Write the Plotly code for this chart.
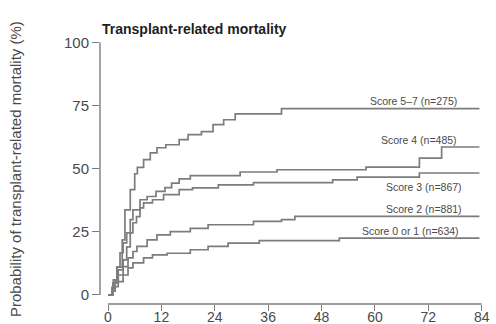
import plotly.graph_objects as go

# Cumulative incidence of transplant-related mortality (%) by risk score, months after transplant
t57 = [0, 1.1, 2.0, 3.2, 3.8, 5.0, 6.0, 6.6, 8.0, 9.5, 11, 13, 16, 18, 21, 23.6, 26, 28.6, 39, 83.5]
v57 = [0, 4.8, 11, 21.8, 33.7, 41.7, 48, 50.5, 53.6, 56.3, 58.3, 59.5, 61.5, 63.5, 64.7, 67.5, 69.4, 71.7, 73.8, 73.8]

t4 = [0, 0.9, 1.2, 2.0, 2.7, 3.4, 4.2, 5.0, 5.6, 7.2, 8.8, 10.8, 12.8, 14.3, 16, 18.5, 29.7, 38, 58, 70, 75, 83.5]
v4 = [0, 3, 6, 11, 16.7, 20.6, 24.6, 29.8, 33.7, 37.7, 39, 41, 42.5, 44.3, 46, 47.3, 48.7, 49.6, 50.6, 54.2, 58.6, 58.6]

t3 = [0, 1.0, 1.6, 2.3, 3.4, 4.2, 5.0, 5.6, 6.4, 7.2, 8.0, 10, 12.5, 16, 19, 24.8, 32.7, 50.5, 56, 70, 83.5]
v3 = [0, 3, 6, 9.9, 13.9, 19, 24.6, 28.6, 31, 34.5, 36.5, 37.7, 39.7, 41.7, 42.4, 43.6, 44.5, 45.6, 46.7, 48.3, 48.3]

t2 = [0, 1.0, 1.6, 2.3, 3.4, 4.5, 5.6, 6.5, 8.8, 11, 14, 18.5, 22.5, 32.7, 39, 42, 83.5]
v2 = [0, 2.5, 4.8, 7.9, 11.2, 14.7, 17.2, 19.2, 21.8, 23.8, 25.1, 26.4, 27.8, 29.1, 29.8, 31.1, 31.1]

t01 = [0, 1.0, 1.6, 2.3, 3.4, 4.5, 5.6, 8, 10, 13.3, 18.5, 22.5, 27, 34, 52, 83.5]
v01 = [0, 1.5, 3.3, 5.3, 7.9, 10.7, 12.7, 14.7, 15.9, 16.5, 17.9, 19.2, 20.5, 21.5, 22.5, 22.5]

group_labels = ["Score 5\u20137 (n=275)", "Score 4 (n=485)", "Score 3 (n=867)",
                "Score 2 (n=881)", "Score 0 or 1 (n=634)"]
x_ticks = [0, 12, 24, 36, 48, 60, 72, 84]
y_ticks = [0, 25, 50, 75, 100]

series = [(t57, v57), (t4, v4), (t3, v3), (t2, v2), (t01, v01)]
# label anchor points (right edge, vertical centre) in data units
label_pos = [(78.8, 76.7), (78.8, 61.5), (80.0, 42.6), (80.0, 34.1), (79.3, 25.4)]

LINE = "#7c7c7c"
TEXT = "#4a4a4a"
FONT = "Liberation Sans, Arial, sans-serif"

fig = go.Figure()
for (t, v), name in zip(series, group_labels):
    fig.add_trace(go.Scatter(x=t, y=v, mode="lines", line_shape="hv",
                             line=dict(color=LINE, width=1.7), name=name,
                             showlegend=False, hoverinfo="skip"))

for (lx, ly), name in zip(label_pos, group_labels):
    fig.add_annotation(x=lx, y=ly, xref="x", yref="y", text=name, showarrow=False,
                       xanchor="right", yanchor="middle",
                       font=dict(family=FONT, size=10.5, color=TEXT))

# Detached axis lines spanning only the data range
fig.add_shape(type="line", xref="paper", yref="y", x0=0, x1=0, y0=0, y1=100,
              line=dict(color=LINE, width=1.4))
fig.add_shape(type="line", xref="x", yref="paper", x0=0, x1=84, y0=0, y1=0,
              line=dict(color=LINE, width=1.4))

fig.add_annotation(x=0, y=1.042, xref="paper", yref="paper",
                   text="<b>Transplant-related mortality</b>", showarrow=False,
                   xanchor="left", yanchor="middle",
                   font=dict(family=FONT, size=14, color="#1e1e1e"))
fig.add_annotation(x=-0.22, y=0.51, xref="paper", yref="paper",
                   text="Probability of transplant-related mortality (%)",
                   showarrow=False, textangle=-90, xanchor="center", yanchor="middle",
                   font=dict(family=FONT, size=15, color=TEXT))

fig.update_xaxes(range=[-1.8, 84.3], tickvals=x_ticks, ticks="outside", ticklen=6,
                 tickwidth=1.4, tickcolor=LINE, showline=False, showgrid=False,
                 zeroline=False, automargin=False, ticklabelstandoff=-6,
                 tickfont=dict(family=FONT, size=14, color=TEXT))
fig.update_yaxes(range=[-3.6, 101], tickvals=y_ticks, ticks="outside", ticklen=7,
                 tickwidth=1.4, tickcolor=LINE, showline=False, showgrid=False,
                 zeroline=False, automargin=False,
                 tickfont=dict(family=FONT, size=15, color=TEXT))

fig.update_layout(width=496, height=324, margin=dict(l=100, r=13, t=40, b=20),
                  paper_bgcolor="white", plot_bgcolor="white")

fig.write_html("out.html")
